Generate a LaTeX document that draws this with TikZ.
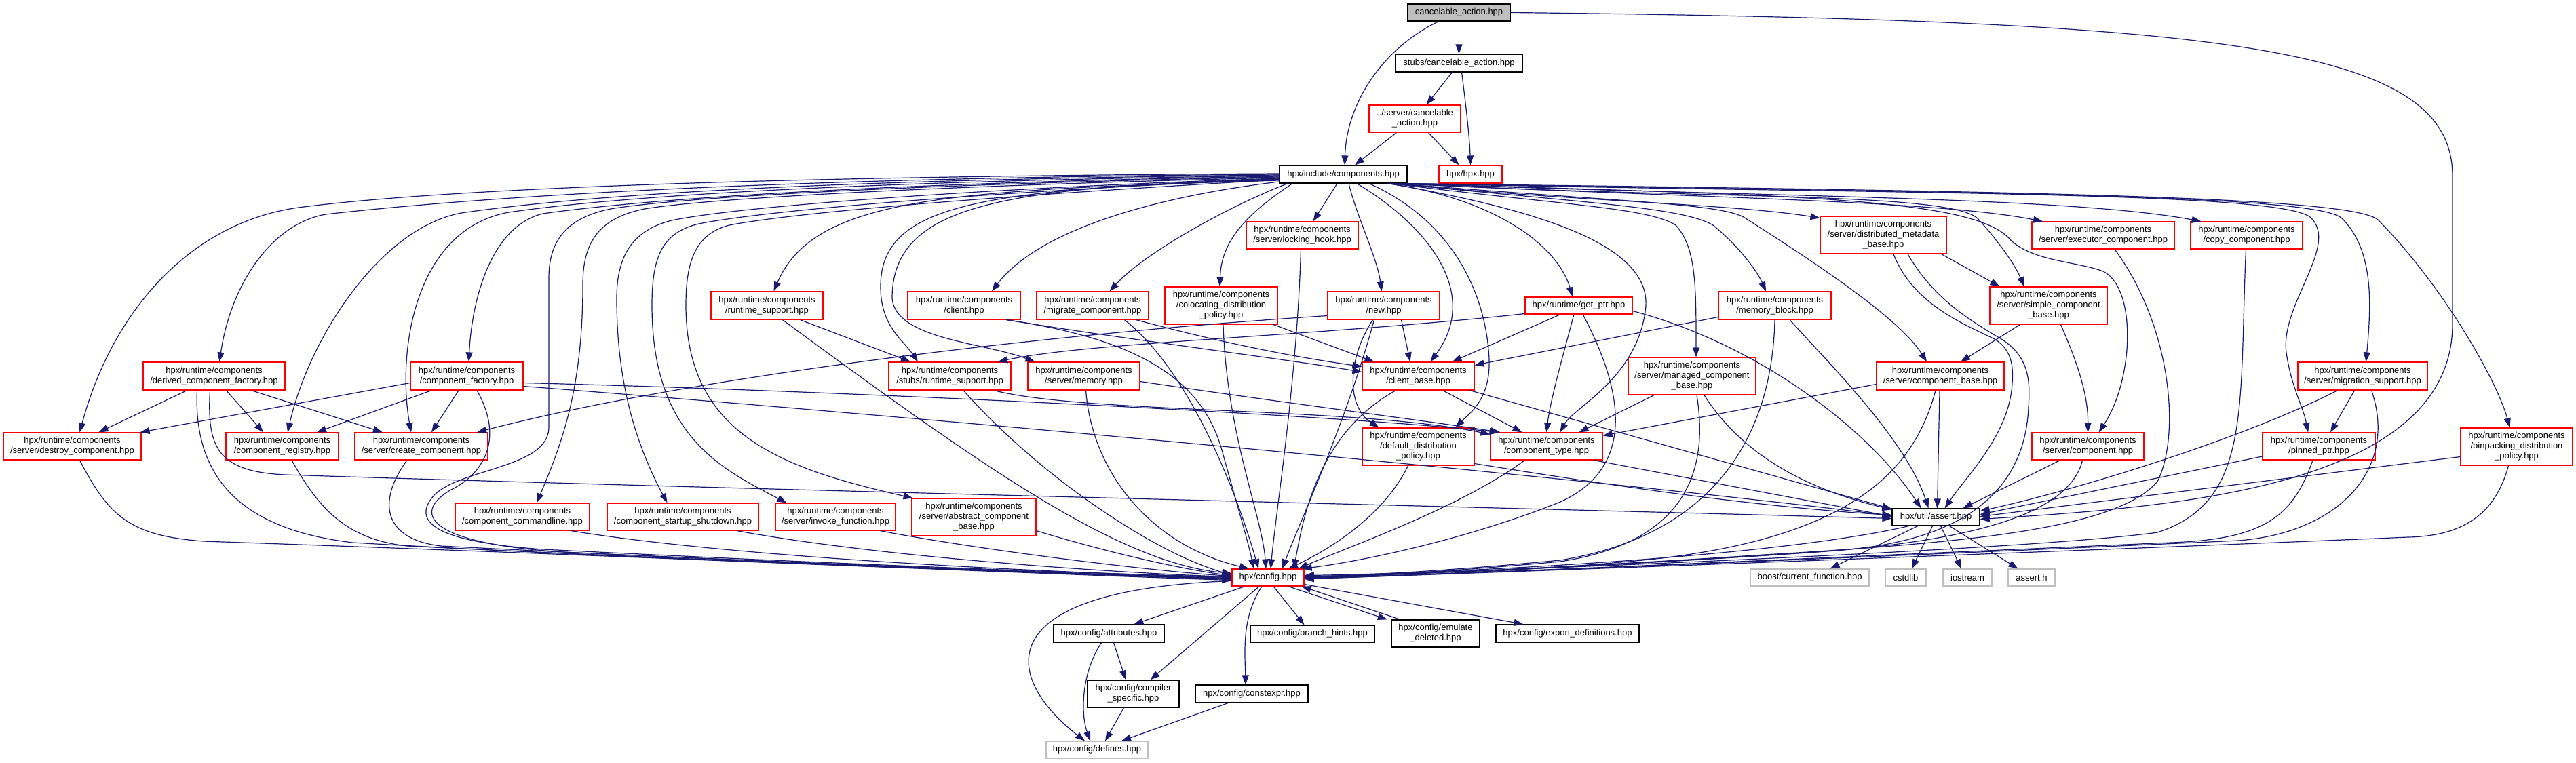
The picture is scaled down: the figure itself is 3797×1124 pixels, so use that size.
\documentclass[tikz,border=0pt]{standalone}
\usepackage{fontspec}
\setmainfont{Liberation Sans}
\usetikzlibrary{arrows.meta}
\definecolor{edgec}{HTML}{191970}
\definecolor{redc}{HTML}{FF0000}
\definecolor{grayc}{HTML}{BFBFBF}
\begin{document}
\begin{tikzpicture}[x=1pt,y=-1pt,
  nd/.style={draw, line width=1.2pt, fill=white, align=center, inner sep=0pt, font={\fontsize{13}{15}\selectfont}},
  rbox/.style={nd, draw=redc},
  bbox/.style={nd, draw=black},
  gbox/.style={nd, draw=grayc},
  root/.style={nd, draw=black, fill=grayc},
  edg/.style={edgec, line width=1.2pt, -{Triangle[length=14pt,width=10pt]}}]
\useasboundingbox[fill=white] (0,0) rectangle (3797,1124);

% ---------------- nodes ----------------
\node[root, minimum width=151, minimum height=25] (cancel) at (2150.5,18.5) {cancelable\_action.hpp};
\node[bbox, minimum width=187, minimum height=26] (stubscancel) at (2150.5,93) {stubs/cancelable\_action.hpp};
\node[rbox, minimum width=135, minimum height=40] (servercancel) at (2085.5,175) {../server/cancelable\\\_action.hpp};
\node[bbox, minimum width=188, minimum height=26] (comps) at (1980,257) {hpx/include/components.hpp};
\node[rbox, minimum width=93, minimum height=26] (hpxhpp) at (2167.5,257) {hpx/hpx.hpp};
\node[rbox, minimum width=165, minimum height=40] (locking) at (1919.5,347) {hpx/runtime/components\\/server/locking\_hook.hpp};
\node[rbox, minimum width=165, minimum height=41] (rtsupport) at (1130.5,450.5) {hpx/runtime/components\\/runtime\_support.hpp};
\node[rbox, minimum width=166, minimum height=41] (client) at (1421,450.5) {hpx/runtime/components\\/client.hpp};
\node[rbox, minimum width=165, minimum height=41] (migrate) at (1610.5,450.5) {hpx/runtime/components\\/migrate\_component.hpp};
\node[rbox, minimum width=166, minimum height=55] (coloc) at (1800,450.5) {hpx/runtime/components\\/colocating\_distribution\\\_policy.hpp};
\node[rbox, minimum width=165, minimum height=41] (new) at (2039.5,450.5) {hpx/runtime/components\\/new.hpp};
\node[rbox, minimum width=158, minimum height=25] (getptr) at (2327,450.5) {hpx/runtime/get\_ptr.hpp};
\node[rbox, minimum width=166, minimum height=41] (memblock) at (2616,450.5) {hpx/runtime/components\\/memory\_block.hpp};
\node[rbox, minimum width=186, minimum height=55] (distmeta) at (2776,346.5) {hpx/runtime/components\\/server/distributed\_metadata\\\_base.hpp};
\node[rbox, minimum width=210, minimum height=40] (executor) at (3100,347) {hpx/runtime/components\\/server/executor\_component.hpp};
\node[rbox, minimum width=165, minimum height=40] (copy) at (3311.5,347) {hpx/runtime/components\\/copy\_component.hpp};
\node[rbox, minimum width=173, minimum height=55] (simple) at (3019.5,450.5) {hpx/runtime/components\\/server/simple\_component\\\_base.hpp};
\node[rbox, minimum width=191, minimum height=41] (migsupport) at (3482.5,554.5) {hpx/runtime/components\\/server/migration\_support.hpp};
\node[rbox, minimum width=165, minimum height=55] (binpack) at (3709.5,658.5) {hpx/runtime/components\\/binpacking\_distribution\\\_policy.hpp};
\node[rbox, minimum width=209, minimum height=41] (derived) at (315.5,554.5) {hpx/runtime/components\\/derived\_component\_factory.hpp};
\node[rbox, minimum width=166, minimum height=41] (compfactory) at (688,554.5) {hpx/runtime/components\\/component\_factory.hpp};
\node[rbox, minimum width=180, minimum height=41] (stubsrt) at (1400,554.5) {hpx/runtime/components\\/stubs/runtime\_support.hpp};
\node[rbox, minimum width=165, minimum height=41] (memory) at (1597.5,554.5) {hpx/runtime/components\\/server/memory.hpp};
\node[rbox, minimum width=165, minimum height=41] (clientbase) at (2090.5,554.5) {hpx/runtime/components\\/client\_base.hpp};
\node[rbox, minimum width=188, minimum height=55] (managed) at (2494,554.5) {hpx/runtime/components\\/server/managed\_component\\\_base.hpp};
\node[rbox, minimum width=188, minimum height=41] (compbase) at (2860,554.5) {hpx/runtime/components\\/server/component\_base.hpp};
\node[rbox, minimum width=203, minimum height=40] (destroy) at (106.5,658) {hpx/runtime/components\\/server/destroy\_component.hpp};
\node[rbox, minimum width=166, minimum height=40] (registry) at (416,658) {hpx/runtime/components\\/component\_registry.hpp};
\node[rbox, minimum width=196, minimum height=40] (create) at (621,658) {hpx/runtime/components\\/server/create\_component.hpp};
\node[rbox, minimum width=165, minimum height=55] (defdist) at (2090.5,658.5) {hpx/runtime/components\\/default\_distribution\\\_policy.hpp};
\node[rbox, minimum width=165, minimum height=40] (comptype) at (2279.5,658) {hpx/runtime/components\\/component\_type.hpp};
\node[rbox, minimum width=165, minimum height=40] (servercomp) at (3077.5,658) {hpx/runtime/components\\/server/component.hpp};
\node[rbox, minimum width=166, minimum height=40] (pinned) at (3418,658) {hpx/runtime/components\\/pinned\_ptr.hpp};
\node[rbox, minimum width=198, minimum height=40] (cmdline) at (770,762) {hpx/runtime/components\\/component\_commandline.hpp};
\node[rbox, minimum width=223, minimum height=40] (startup) at (1006.5,762) {hpx/runtime/components\\/component\_startup\_shutdown.hpp};
\node[rbox, minimum width=177, minimum height=40] (invoke) at (1231.5,762) {hpx/runtime/components\\/server/invoke\_function.hpp};
\node[rbox, minimum width=183, minimum height=55] (abstract) at (1435.5,762.5) {hpx/runtime/components\\/server/abstract\_component\\\_base.hpp};
\node[bbox, minimum width=129, minimum height=25] (assert) at (2853.5,762.5) {hpx/util/assert.hpp};
\node[rbox, minimum width=106, minimum height=25] (config) at (1869,851.5) {hpx/config.hpp};
\node[gbox, minimum width=175, minimum height=25] (boostcf) at (2667.5,851.5) {boost/current\_function.hpp};
\node[gbox, minimum width=60, minimum height=25] (cstdlib) at (2809,851.5) {cstdlib};
\node[gbox, minimum width=72, minimum height=25] (iostream) at (2900,851.5) {iostream};
\node[gbox, minimum width=69, minimum height=25] (asserth) at (2994.5,851.5) {assert.h};
\node[bbox, minimum width=163, minimum height=26] (attrib) at (1634.5,934) {hpx/config/attributes.hpp};
\node[bbox, minimum width=183, minimum height=25] (branch) at (1934.5,934.5) {hpx/config/branch\_hints.hpp};
\node[bbox, minimum width=130, minimum height=40] (emulate) at (2116,934) {hpx/config/emulate\\\_deleted.hpp};
\node[bbox, minimum width=211, minimum height=26] (export) at (2310.5,934) {hpx/config/export\_definitions.hpp};
\node[bbox, minimum width=135, minimum height=40] (compspec) at (1670.5,1023) {hpx/config/compiler\\\_specific.hpp};
\node[bbox, minimum width=166, minimum height=26] (constexpr) at (1845,1023) {hpx/config/constexpr.hpp};
\node[gbox, minimum width=150, minimum height=25] (defines) at (1617,1105.5) {hpx/config/defines.hpp};

% ---------------- top ----------------
\draw[edg] (cancel.south) -- (stubscancel.north);
\draw[edg] ([xshift=-30]cancel.south) .. controls (2040,70) and (1985,150) .. ([xshift=2]comps.north);
\draw[edg] (cancel.east) .. controls (3300,30) and (3615,70) .. (3615,260) -- (3615,480) .. controls (3612,720) and (3200,748) .. ([yshift=-3]assert.east);
\draw[edg] ([xshift=-10]stubscancel.south) -- ([xshift=17]servercancel.north);
\draw[edg] ([xshift=4]stubscancel.south) .. controls (2160,150) and (2166,200) .. (hpxhpp.north);
\draw[edg] ([xshift=-27]servercancel.south) -- ([xshift=17]comps.north);
\draw[edg] ([xshift=20]servercancel.south) -- ([xshift=-17]hpxhpp.north);

% ---------------- components.hpp to the left ----------------
\draw[edg] ([yshift=1]comps.west) .. controls (1300,259) and (700,272) .. (440,306) .. controls (280,328) and (165,460) .. ([xshift=11]destroy.north);
\draw[edg] (comps.west) .. controls (1300,261) and (800,280) .. (480,316) .. controls (400,330) and (340,420) .. ([xshift=8]derived.north);
\draw[edg] ([yshift=-1]comps.west) .. controls (1300,264) and (900,282) .. (680,314) .. controls (560,336) and (455,500) .. ([xshift=8]registry.north);
\draw[edg] ([yshift=-2]comps.west) .. controls (1350,266) and (950,284) .. (750,313) .. controls (610,338) and (585,520) .. ([xshift=-15]create.north);
\draw[edg] ([yshift=-3]comps.west) .. controls (1400,268) and (1000,287) .. (800,315) .. controls (720,335) and (695,450) .. ([xshift=3]compfactory.north);
\draw[edg] ([yshift=-4]comps.west) .. controls (1420,270) and (1020,288) .. (900,308) .. controls (830,322) and (809,360) .. (809,410) -- (809,630) .. controls (809,690) and (680,690) .. (640,730) .. controls (600,775) and (660,800) .. (800,810) .. controls (1200,830) and (1600,846) .. ([yshift=1]config.west);
\draw[edg] ([yshift=-5]comps.west) .. controls (1450,272) and (1060,290) .. (950,308) .. controls (880,322) and (859,360) .. (859,420) .. controls (859,570) and (830,650) .. ([xshift=21]cmdline.north);
\draw[edg] ([yshift=-6]comps.west) .. controls (1500,275) and (1100,302) .. (990,325) .. controls (930,340) and (909,380) .. (909,440) .. controls (909,570) and (940,660) .. ([xshift=-23]startup.north);
\draw[edg] ([yshift=-7]comps.west) .. controls (1550,278) and (1150,306) .. (1030,330) .. controls (975,343) and (961,380) .. (961,450) .. controls (961,640) and (1060,690) .. ([xshift=-72]invoke.north);
\draw[edg] ([yshift=-8]comps.west) .. controls (1600,281) and (1200,308) .. (1075,332) .. controls (1025,345) and (1011,385) .. (1011,450) .. controls (1011,640) and (1150,690) .. ([xshift=-90]abstract.north);
\draw[edg] ([yshift=-9]comps.west) .. controls (1400,280) and (1200,290) .. ([xshift=10]rtsupport.north);
\draw[edg] ([yshift=-8]comps.west) .. controls (1450,278) and (1300,300) .. (1298,420) .. controls (1297,480) and (1330,500) .. ([xshift=-47]stubsrt.north);
\draw[edg] ([yshift=-7]comps.west) .. controls (1480,276) and (1315,300) .. (1315,440) .. controls (1320,500) and (1450,505) .. ([xshift=-72]memory.north);
\draw[edg] ([yshift=-11]comps.west) .. controls (1700,290) and (1530,340) .. ([xshift=41]client.north);
\draw[edg] ([xshift=-82]comps.south) .. controls (1820,300) and (1690,370) .. ([xshift=25]migrate.north);
\draw[edg] ([xshift=-75]comps.south) .. controls (1830,320) and (1800,360) .. ([xshift=-2]coloc.north);
\draw[edg] ([xshift=-9]comps.south) -- ([xshift=16]locking.north);
\draw[edg] ([xshift=8]comps.south) .. controls (2000,320) and (2030,380) .. ([xshift=-3]new.north);
\draw[edg] ([xshift=20]comps.south) .. controls (2100,330) and (2185,430) .. ([xshift=18]clientbase.north);
\draw[edg] ([xshift=38]comps.south) .. controls (2130,320) and (2190,420) .. (2195,530) .. controls (2197,590) and (2165,610) .. ([xshift=55]defdist.north);

% ---------------- components.hpp to the right ----------------
\draw[edg] ([xshift=-30]comps.south east) .. controls (2200,292) and (2295,360) .. ([xshift=-9]getptr.north);
\draw[edg] ([xshift=-27]comps.south east) .. controls (2300,315) and (2440,370) .. (2425,460) .. controls (2410,560) and (2320,600) .. ([xshift=20]comptype.north);
\draw[edg] ([xshift=-24]comps.south east) .. controls (2300,302) and (2430,306) .. (2470,332) .. controls (2500,365) and (2500,420) .. ([xshift=6]managed.north);
\draw[edg] ([xshift=-21]comps.south east) .. controls (2350,300) and (2480,306) .. (2525,332) .. controls (2565,365) and (2590,400) .. ([xshift=-13]memblock.north);
\draw[edg] ([xshift=-18]comps.south east) .. controls (2400,298) and (2530,300) .. (2570,320) .. controls (2680,390) and (2800,470) .. ([xshift=-20]compbase.north);
\draw[edg] ([xshift=-15]comps.south east) .. controls (2300,296) and (2550,300) .. ([yshift=-3]distmeta.north west);
\draw[edg] ([xshift=-13]comps.south east) .. controls (2500,294) and (2870,282) .. (2915,322) .. controls (2945,355) and (2970,390) .. ([xshift=-36]simple.north);
\draw[edg] ([xshift=-11]comps.south east) .. controls (2500,292) and (2850,295) .. ([xshift=-89]executor.north);
\draw[edg] ([xshift=-9]comps.south east) .. controls (2600,290) and (3050,290) .. ([xshift=-67]copy.north);
\draw[edg] ([xshift=-7]comps.south east) .. controls (2650,288) and (2900,292) .. (2960,350) .. controls (2990,385) and (3060,385) .. (3100,400) .. controls (3150,425) and (3145,560) .. ([xshift=16]servercomp.north);
\draw[edg] ([xshift=-5]comps.south east) .. controls (2800,286) and (3355,282) .. (3405,320) .. controls (3450,360) and (3360,450) .. (3370,520) .. controls (3377,570) and (3395,600) .. ([xshift=-16]pinned.north);
\draw[edg] ([xshift=-3]comps.south east) .. controls (2900,284) and (3415,286) .. (3452,322) .. controls (3500,370) and (3495,450) .. ([xshift=5]migsupport.north);
\draw[edg] ([xshift=-1]comps.south east) .. controls (3000,282) and (3465,290) .. (3505,324) .. controls (3600,420) and (3680,560) .. ([xshift=-10]binpack.north);

% ---------------- second tier ----------------
\draw[edg] ([xshift=49]rtsupport.south) -- ([xshift=-58]stubsrt.north);
\draw[edg] ([xshift=23]rtsupport.south) .. controls (1450,690) and (1650,830) .. ([yshift=6]config.west);
\draw[edg] ([xshift=64]client.south) .. controls (1620,495) and (1900,530) .. ([yshift=6]clientbase.west);
\draw[edg] ([xshift=62]client.south) .. controls (1680,500) and (1770,560) .. (1800,660) .. controls (1825,750) and (1840,800) .. ([xshift=-21]config.north);
\draw[edg] ([xshift=64]migrate.south) .. controls (1800,505) and (1900,525) .. ([yshift=14]clientbase.west);
\draw[edg] ([xshift=47]migrate.south) .. controls (1745,540) and (1815,700) .. ([xshift=-14]config.north);
\draw[edg] ([xshift=77]coloc.south) -- ([xshift=-65]clientbase.north);
\draw[edg] ([xshift=3]coloc.south) .. controls (1808,640) and (1860,760) .. ([xshift=-3]config.north);
\draw[edg] ([xshift=-2]locking.south) .. controls (1912,560) and (1880,760) .. ([xshift=4]config.north);
\draw[edg] ([xshift=26]new.south) -- ([xshift=-12]clientbase.north);
\draw[edg] ([xshift=-16]new.south) .. controls (1985,530) and (1985,600) .. ([xshift=-58]defdist.north);
\draw[edg] ([xshift=-14]new.south) .. controls (1985,620) and (1920,760) .. ([xshift=21]config.north);
\draw[edg] ([yshift=-15]new.west) .. controls (1500,495) and (1000,560) .. ([xshift=82]create.north);
\draw[edg] ([yshift=-12]getptr.west) .. controls (1950,495) and (1600,505) .. ([xshift=71]stubsrt.north);
\draw[edg] ([xshift=-27]getptr.south) -- ([xshift=50]clientbase.north);
\draw[edg] ([xshift=-7]getptr.south) .. controls (2305,520) and (2285,590) .. (comptype.north);
\draw[edg] ([xshift=6]getptr.south) .. controls (2395,580) and (2410,690) .. (2300,740) .. controls (2150,800) and (1990,830) .. ([xshift=-3]config.north east);
\draw[edg] ([yshift=-8]getptr.east) .. controls (2600,510) and (2760,640) .. ([xshift=-22]assert.north);
\draw[edg] ([yshift=-17]memblock.west) -- ([yshift=-5]clientbase.north east);
\draw[edg] (memblock.south) .. controls (2612,650) and (2520,790) .. (2300,826) .. controls (2100,845) and (1990,848) .. ([yshift=-1]config.east);
\draw[edg] ([xshift=22]memblock.south) .. controls (2700,540) and (2810,650) .. ([xshift=-11]assert.north);
\draw[edg] ([xshift=-56]managed.south) -- ([xshift=48]comptype.north);
\draw[edg] ([xshift=7]managed.south) .. controls (2520,700) and (2480,800) .. (2300,828) .. controls (2100,846) and (1990,850) .. (config.east);
\draw[edg] ([xshift=18]managed.south) .. controls (2580,690) and (2700,730) .. ([yshift=-2]assert.north west);
\draw[edg] ([xshift=36]clientbase.south) -- ([xshift=-36]comptype.north);
\draw[edg] ([xshift=-33]clientbase.south) .. controls (1940,640) and (1920,770) .. ([xshift=38]config.north);
\draw[edg] ([xshift=76]clientbase.south) -- ([yshift=-1]assert.north west);
\draw[edg] ([xshift=-15]defdist.south) .. controls (2040,760) and (1960,810) .. ([xshift=30]config.north);
\draw[edg] ([yshift=-25]defdist.east) .. controls (2400,720) and (2600,748) .. ([yshift=3]assert.west);
\draw[edg] ([xshift=-32]comptype.south) .. controls (2150,750) and (1990,805) .. ([xshift=45]config.north);
\draw[edg] ([xshift=70]comptype.south) -- ([yshift=1]assert.west);
\draw[edg] ([yshift=-12]compbase.west) -- ([yshift=-5]comptype.north east);
\draw[edg] ([xshift=-1]compbase.south) -- ([xshift=2]assert.north);
\draw[edg] ([xshift=-7]compbase.south) .. controls (2820,700) and (2720,800) .. (2400,828) .. controls (2200,846) and (1990,851) .. ([yshift=1]config.east);
\draw[edg] ([xshift=-42]simple.south) -- ([xshift=30]compbase.north);
\draw[edg] ([xshift=18]simple.south) .. controls (3060,530) and (3078,580) .. (servercomp.north);
\draw[edg] ([xshift=-8]distmeta.south east) -- ([xshift=-72]simple.north);
\draw[edg] ([xshift=15]distmeta.south) .. controls (2820,450) and (2900,480) .. (2940,500) .. controls (2965,515) and (2968,540) .. (2966,565) .. controls (2962,640) and (2900,700) .. ([xshift=13]assert.north);
\draw[edg] ([xshift=36]distmeta.south) .. controls (2850,440) and (2900,470) .. (2950,500) .. controls (2990,525) and (2993,560) .. (2990,600) .. controls (2985,720) and (2900,800) .. (2700,812) .. controls (2400,835) and (2000,850) .. ([yshift=2]config.east);
\draw[edg] ([xshift=17]executor.south) .. controls (3200,480) and (3215,640) .. (3180,710) .. controls (3120,780) and (2900,800) .. (2600,818) .. controls (2300,838) and (2000,850) .. ([yshift=2]config.east);
\draw[edg] ([xshift=-1]copy.south) .. controls (3300,600) and (3320,740) .. (3180,785) .. controls (3000,810) and (2300,838) .. ([yshift=1]config.east);
\draw[edg] ([xshift=-41]servercomp.south) -- ([xshift=40]assert.north);
\draw[edg] ([xshift=-8]servercomp.south) .. controls (3050,760) and (2900,800) .. (2650,816) .. controls (2300,838) and (2000,850) .. (config.east);
\draw[edg] ([xshift=-12]migsupport.south) -- ([xshift=17]pinned.north);
\draw[edg] ([xshift=-37]migsupport.south) .. controls (3300,650) and (3050,725) .. ([yshift=9]assert.east);
\draw[edg] ([xshift=13]migsupport.south) .. controls (3535,690) and (3450,785) .. (3300,797) .. controls (2800,820) and (2100,848) .. ([yshift=-2]config.east);
\draw[edg] ([yshift=-15]pinned.west) -- ([yshift=4]assert.east);
\draw[edg] ([xshift=-9]pinned.south) .. controls (3380,760) and (3340,795) .. (3200,800) .. controls (2700,822) and (2100,849) .. ([yshift=-1]config.east);
\draw[edg] ([yshift=-15]binpack.west) -- ([yshift=1]assert.east);
\draw[edg] ([xshift=-12]binpack.south) .. controls (3680,750) and (3640,790) .. (3550,792) .. controls (3000,815) and (2100,848) .. ([yshift=-2]config.east);
\draw[edg] ([xshift=20]stubsrt.south) .. controls (1530,700) and (1700,815) .. ([yshift=4]config.west);
\draw[edg] ([xshift=65]stubsrt.south) .. controls (1600,610) and (2000,600) .. ([yshift=-3]comptype.north west);
\draw[edg] ([xshift=3]memory.south) .. controls (1610,700) and (1700,805) .. ([xshift=-28]config.north);
\draw[edg] ([yshift=-8]memory.east) .. controls (1900,595) and (2100,620) .. ([xshift=-68]comptype.north);

% ---------------- factories ----------------
\draw[edg] ([yshift=-10]compfactory.east) .. controls (1200,575) and (1950,610) .. ([xshift=-70]comptype.north);
\draw[edg] ([yshift=-15]compfactory.east) .. controls (1300,610) and (2300,700) .. ([yshift=2]assert.west);
\draw[edg] ([xshift=-6]derived.south) .. controls (305,660) and (320,695) .. (420,700) .. controls (1100,722) and (2200,748) .. ([yshift=-2]assert.west);
\draw[edg] ([xshift=-25]derived.south) .. controls (285,700) and (350,780) .. (520,800) .. controls (1000,828) and (1600,846) .. ([yshift=-2]config.west);
\draw[edg] ([xshift=-40]derived.south) -- ([xshift=39]destroy.north);
\draw[edg] ([xshift=18]derived.south) -- ([xshift=-28]registry.north);
\draw[edg] ([xshift=55]derived.south) -- ([xshift=-57]create.north);
\draw[edg] ([yshift=-10]compfactory.west) -- ([xshift=-2]destroy.north east);
\draw[edg] ([xshift=-52]compfactory.south) -- ([xshift=51]registry.north);
\draw[edg] ([xshift=-12]compfactory.south) -- ([xshift=15]create.north);
\draw[edg] ([xshift=15]compfactory.south) .. controls (745,650) and (710,700) .. (665,722) .. controls (600,760) and (640,805) .. (850,815) .. controls (1300,835) and (1650,848) .. ([yshift=-1]config.west);
\draw[edg] ([xshift=11]destroy.south) .. controls (160,760) and (190,790) .. (300,798) .. controls (800,815) and (1500,845) .. ([yshift=-4]config.west);
\draw[edg] ([xshift=14]registry.south) .. controls (470,750) and (510,795) .. (600,805) .. controls (1000,825) and (1600,847) .. ([yshift=-3]config.west);
\draw[edg] ([xshift=-21]create.south) .. controls (555,740) and (565,795) .. (650,805) .. controls (1050,826) and (1600,847) .. ([yshift=-2]config.west);
\draw[edg] ([xshift=72]cmdline.south) .. controls (1100,825) and (1600,846) .. (config.west);
\draw[edg] ([xshift=80]startup.south) .. controls (1300,822) and (1650,845) .. ([yshift=1]config.west);
\draw[edg] ([xshift=66]invoke.south) .. controls (1450,812) and (1700,842) .. ([yshift=2]config.west);
\draw[edg] ([yshift=-20]abstract.east) .. controls (1650,820) and (1760,842) .. ([yshift=3]config.west);

% ---------------- config ----------------
\draw[edg] ([yshift=-5]config.west) .. controls (1450,870) and (1480,1000) .. ([xshift=-18]defines.north);
\draw[edg] ([xshift=-34]config.south) -- ([xshift=37]attrib.north);
\draw[edg] ([xshift=-13]config.south) -- ([xshift=25]compspec.north);
\draw[edg] ([xshift=-9]config.south) .. controls (1830,910) and (1835,960) .. ([xshift=-9]constexpr.north);
\draw[edg] ([xshift=8]config.south) -- ([xshift=-12]branch.north);
\draw[edg] ([xshift=30]config.south) -- ([xshift=-71]emulate.north);
\draw[edg] ([xshift=-52]emulate.north) -- ([xshift=-4]config.south east);
\draw[edg] ([yshift=-10]config.east) -- ([xshift=-65]export.north);
\draw[edg] ([xshift=7]attrib.south) -- ([xshift=-11]compspec.north);
\draw[edg] ([xshift=-11]attrib.south) .. controls (1595,990) and (1592,1050) .. ([xshift=-10]defines.north);
\draw[edg] ([xshift=-14]compspec.south) -- ([xshift=12]defines.north);
\draw[edg] ([xshift=-35]constexpr.south) -- ([xshift=36]defines.north);

% ---------------- assert ----------------
\draw[edg] ([xshift=-27]assert.south) -- ([xshift=30]boostcf.north);
\draw[edg] ([xshift=-5]assert.south) -- ([xshift=9]cstdlib.north);
\draw[edg] ([xshift=7]assert.south) -- ([xshift=-9]iostream.north);
\draw[edg] ([xshift=20]assert.south) -- ([xshift=-20]asserth.north);
\draw[edg] ([xshift=-40]assert.south) .. controls (2600,825) and (2100,846) .. ([yshift=3]config.east);
\end{tikzpicture}
\end{document}
